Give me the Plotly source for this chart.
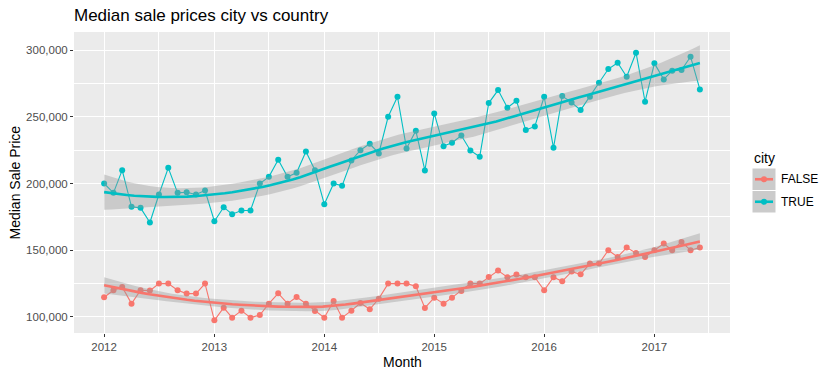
import numpy as np
import pandas as pd
import plotly.graph_objects as go

# ---- data ----
months = pd.date_range("2012-01-01", periods=66, freq="MS")

false_vals = [114750, 120000, 122500, 110000, 120000, 119750, 125000, 125000, 120000, 117500, 117500, 125000,
              97500, 107000, 99500, 104750, 99500, 101500, 110000, 117750, 110000, 115000, 110000, 104500,
              99500, 112000, 99500, 104750, 110500, 105750, 113750, 125000, 125000, 125000, 123000, 106750,
              114500, 110000, 114500, 119500, 125000, 125000, 130000, 134750, 129750, 131750, 129750, 129750,
              120000, 129750, 126750, 134000, 132000, 140000, 140000, 150000, 145000, 152000, 148000, 145000,
              150000, 155000, 150000, 156250, 150000, 152000]

true_vals = [200000, 193000, 210000, 182500, 181750, 170750, 191750, 211750, 193000, 193500, 191750, 194750,
             171750, 182250, 177000, 179750, 179750, 200000, 205000, 217750, 205000, 208000, 224000, 210000,
             184500, 200000, 198250, 217250, 225000, 229750, 222500, 250000, 265000, 226250, 239500, 209750,
             252500, 228000, 230500, 236000, 224750, 220000, 260250, 270000, 256750, 262000, 240000, 242750,
             265000, 226750, 265500, 260750, 255000, 265000, 275500, 285750, 290500, 280000, 298000, 261250,
             290000, 278000, 284500, 285000, 295000, 270500]

series_names = ["FALSE", "TRUE"]
series_colors = ["#F8766D", "#00BFC4"]
year_ticks = ["2012", "2013", "2014", "2015", "2016", "2017"]
price_ticks = [100000, 150000, 200000, 250000, 300000]


# ---- loess (span 0.75, degree 2) with 95% confidence band, like geom_smooth ----
def loess_rows(x, x0s, span=0.75):
    n = len(x)
    q = int(np.floor(n * span))
    rows = []
    for x0 in x0s:
        d = np.abs(x - x0)
        h = np.sort(d)[q - 1]
        u = np.clip(d / h, 0, 1)
        w = (1 - u ** 3) ** 3
        X = np.vstack([np.ones(n), x - x0, (x - x0) ** 2]).T
        A = X.T @ (w[:, None] * X)
        l = np.linalg.solve(A, (X * w[:, None]).T)[0]
        rows.append(l)
    return np.array(rows)


def smooth(dates, y, npts=80):
    y = np.asarray(y, float)
    t0 = dates[0]
    x = np.asarray((dates - t0).days, float) / 365.25
    xe = np.linspace(x.min(), x.max(), npts)
    L = loess_rows(x, x)
    Le = loess_rows(x, xe)
    n = len(x)
    R = np.eye(n) - L
    RtR = R.T @ R
    d1 = np.trace(RtR)
    d2 = np.trace(RtR @ RtR)
    s = np.sqrt(np.sum((R @ y) ** 2) / d1)
    fit = Le @ y
    se = s * np.sqrt(np.sum(Le ** 2, axis=1))
    df = d1 ** 2 / d2
    z = 1.959964
    tq = z + (z ** 3 + z) / (4 * df) + (5 * z ** 5 + 16 * z ** 3 + 3 * z) / (96 * df ** 2)
    xd = t0 + pd.to_timedelta(xe * 365.25, unit="D")
    return xd, fit, fit - tq * se, fit + tq * se


fig = go.Figure()

all_series = [false_vals, true_vals]

# raw lines + points
for name, col, vals in zip(series_names, series_colors, all_series):
    fig.add_trace(go.Scatter(x=months, y=vals, mode="lines+markers", name=name,
                             line=dict(color=col, width=1.1),
                             marker=dict(color=col, size=6),
                             showlegend=False, hoverinfo="x+y"))

# smooths
for name, col, vals in zip(series_names, series_colors, all_series):
    xd, fit, lo, hi = smooth(months, vals)
    fig.add_trace(go.Scatter(x=list(xd) + list(xd[::-1]), y=list(hi) + list(lo[::-1]),
                             fill="toself", fillcolor="rgba(153,153,153,0.4)",
                             line=dict(width=0), mode="lines", showlegend=False, hoverinfo="skip"))
    fig.add_trace(go.Scatter(x=xd, y=fit, mode="lines", line=dict(color=col, width=2.6),
                             showlegend=False, hoverinfo="skip"))

# ---- geometry ----
W, H = 831, 374
PL, PR, PT, PB = 74, 730, 32, 333
pw, ph = PR - PL, PB - PT


def px(xp):
    return (xp - PL) / pw


def py(yp):
    return (PB - yp) / ph


font = "Liberation Sans, Arial, Helvetica, sans-serif"

shapes = []
annotations = []

# manual legend (ggplot style)
annotations.append(dict(text="city", x=px(752), y=py(158), xref="paper", yref="paper",
                        xanchor="left", yanchor="middle", showarrow=False,
                        font=dict(size=14, color="black", family=font)))
key_tops = [168.5, 191]
for name, col, top in zip(series_names, series_colors, key_tops):
    shapes.append(dict(type="rect", xref="paper", yref="paper",
                       x0=px(752.5), x1=px(775.5), y0=py(top), y1=py(top + 21.5),
                       fillcolor="#CBCBCB", line=dict(width=0), layer="above"))
    cy = top + 10.75
    shapes.append(dict(type="line", xref="paper", yref="paper",
                       x0=px(755), x1=px(773), y0=py(cy), y1=py(cy),
                       line=dict(color=col, width=2.6), layer="above"))
    shapes.append(dict(type="circle", xref="paper", yref="paper",
                       xsizemode="pixel", ysizemode="pixel",
                       xanchor=px(764), yanchor=py(cy),
                       x0=-3, x1=3, y0=-3, y1=3,
                       fillcolor=col, line=dict(width=0), layer="above"))
    annotations.append(dict(text=name, x=px(779), y=py(cy), xref="paper", yref="paper",
                            xanchor="left", yanchor="middle", showarrow=False,
                            font=dict(size=12, color="black", family=font)))

# axis titles
annotations.append(dict(text="Month", x=0.5, y=py(362), xref="paper", yref="paper",
                        xanchor="center", yanchor="middle", showarrow=False,
                        font=dict(size=14, color="black", family=font)))
annotations.append(dict(text="Median Sale Price", x=px(14.5), y=py(183), xref="paper", yref="paper",
                        xanchor="center", yanchor="middle", showarrow=False, textangle=-90,
                        font=dict(size=14, color="black", family=font)))

fig.update_layout(
    width=W, height=H,
    margin=dict(l=PL, r=W - PR, t=PT, b=H - PB, pad=0),
    paper_bgcolor="white", plot_bgcolor="#EBEBEB",
    font=dict(family=font, color="#4D4D4D", size=12),
    title=dict(text="Median sale prices city vs country", xref="paper", x=0, xanchor="left",
               yref="container", y=1 - 15 / H, yanchor="middle",
               font=dict(size=17, color="black", family=font)),
    shapes=shapes, annotations=annotations,
    showlegend=False,
    xaxis=dict(type="date", range=["2011-09-23", "2017-09-09"],
               tickvals=[f"{y}-01-01" for y in year_ticks], ticktext=year_ticks,
               ticks="outside", ticklen=3, tickwidth=1.1, tickcolor="#333333",
               showgrid=True, gridcolor="white", gridwidth=1.1, zeroline=False, showline=False,
               minor=dict(tickvals=[f"{y}-07-01" for y in year_ticks], showgrid=True,
                          gridcolor="white", gridwidth=0.55, ticks=""),
               tickfont=dict(size=11.5, color="#4D4D4D")),
    yaxis=dict(range=[88000, 313500], tickvals=price_ticks,
               ticktext=[f"{v:,}" for v in price_ticks],
               ticks="outside", ticklen=3, tickwidth=1.1, tickcolor="#333333",
               showgrid=True, gridcolor="white", gridwidth=1.1, zeroline=False, showline=False,
               minor=dict(tickvals=[125000, 175000, 225000, 275000], showgrid=True,
                          gridcolor="white", gridwidth=0.55, ticks=""),
               tickfont=dict(size=11.5, color="#4D4D4D")),
)

fig.write_html("out.html", config={"displayModeBar": False})

# remove the default page margin so the figure sits at the window's top-left corner
with open("out.html", "r", encoding="utf-8") as f:
    html = f.read()
html = html.replace("<head>", "<head><style>html,body{margin:0;padding:0;overflow:hidden;}</style>", 1)
with open("out.html", "w", encoding="utf-8") as f:
    f.write(html)
